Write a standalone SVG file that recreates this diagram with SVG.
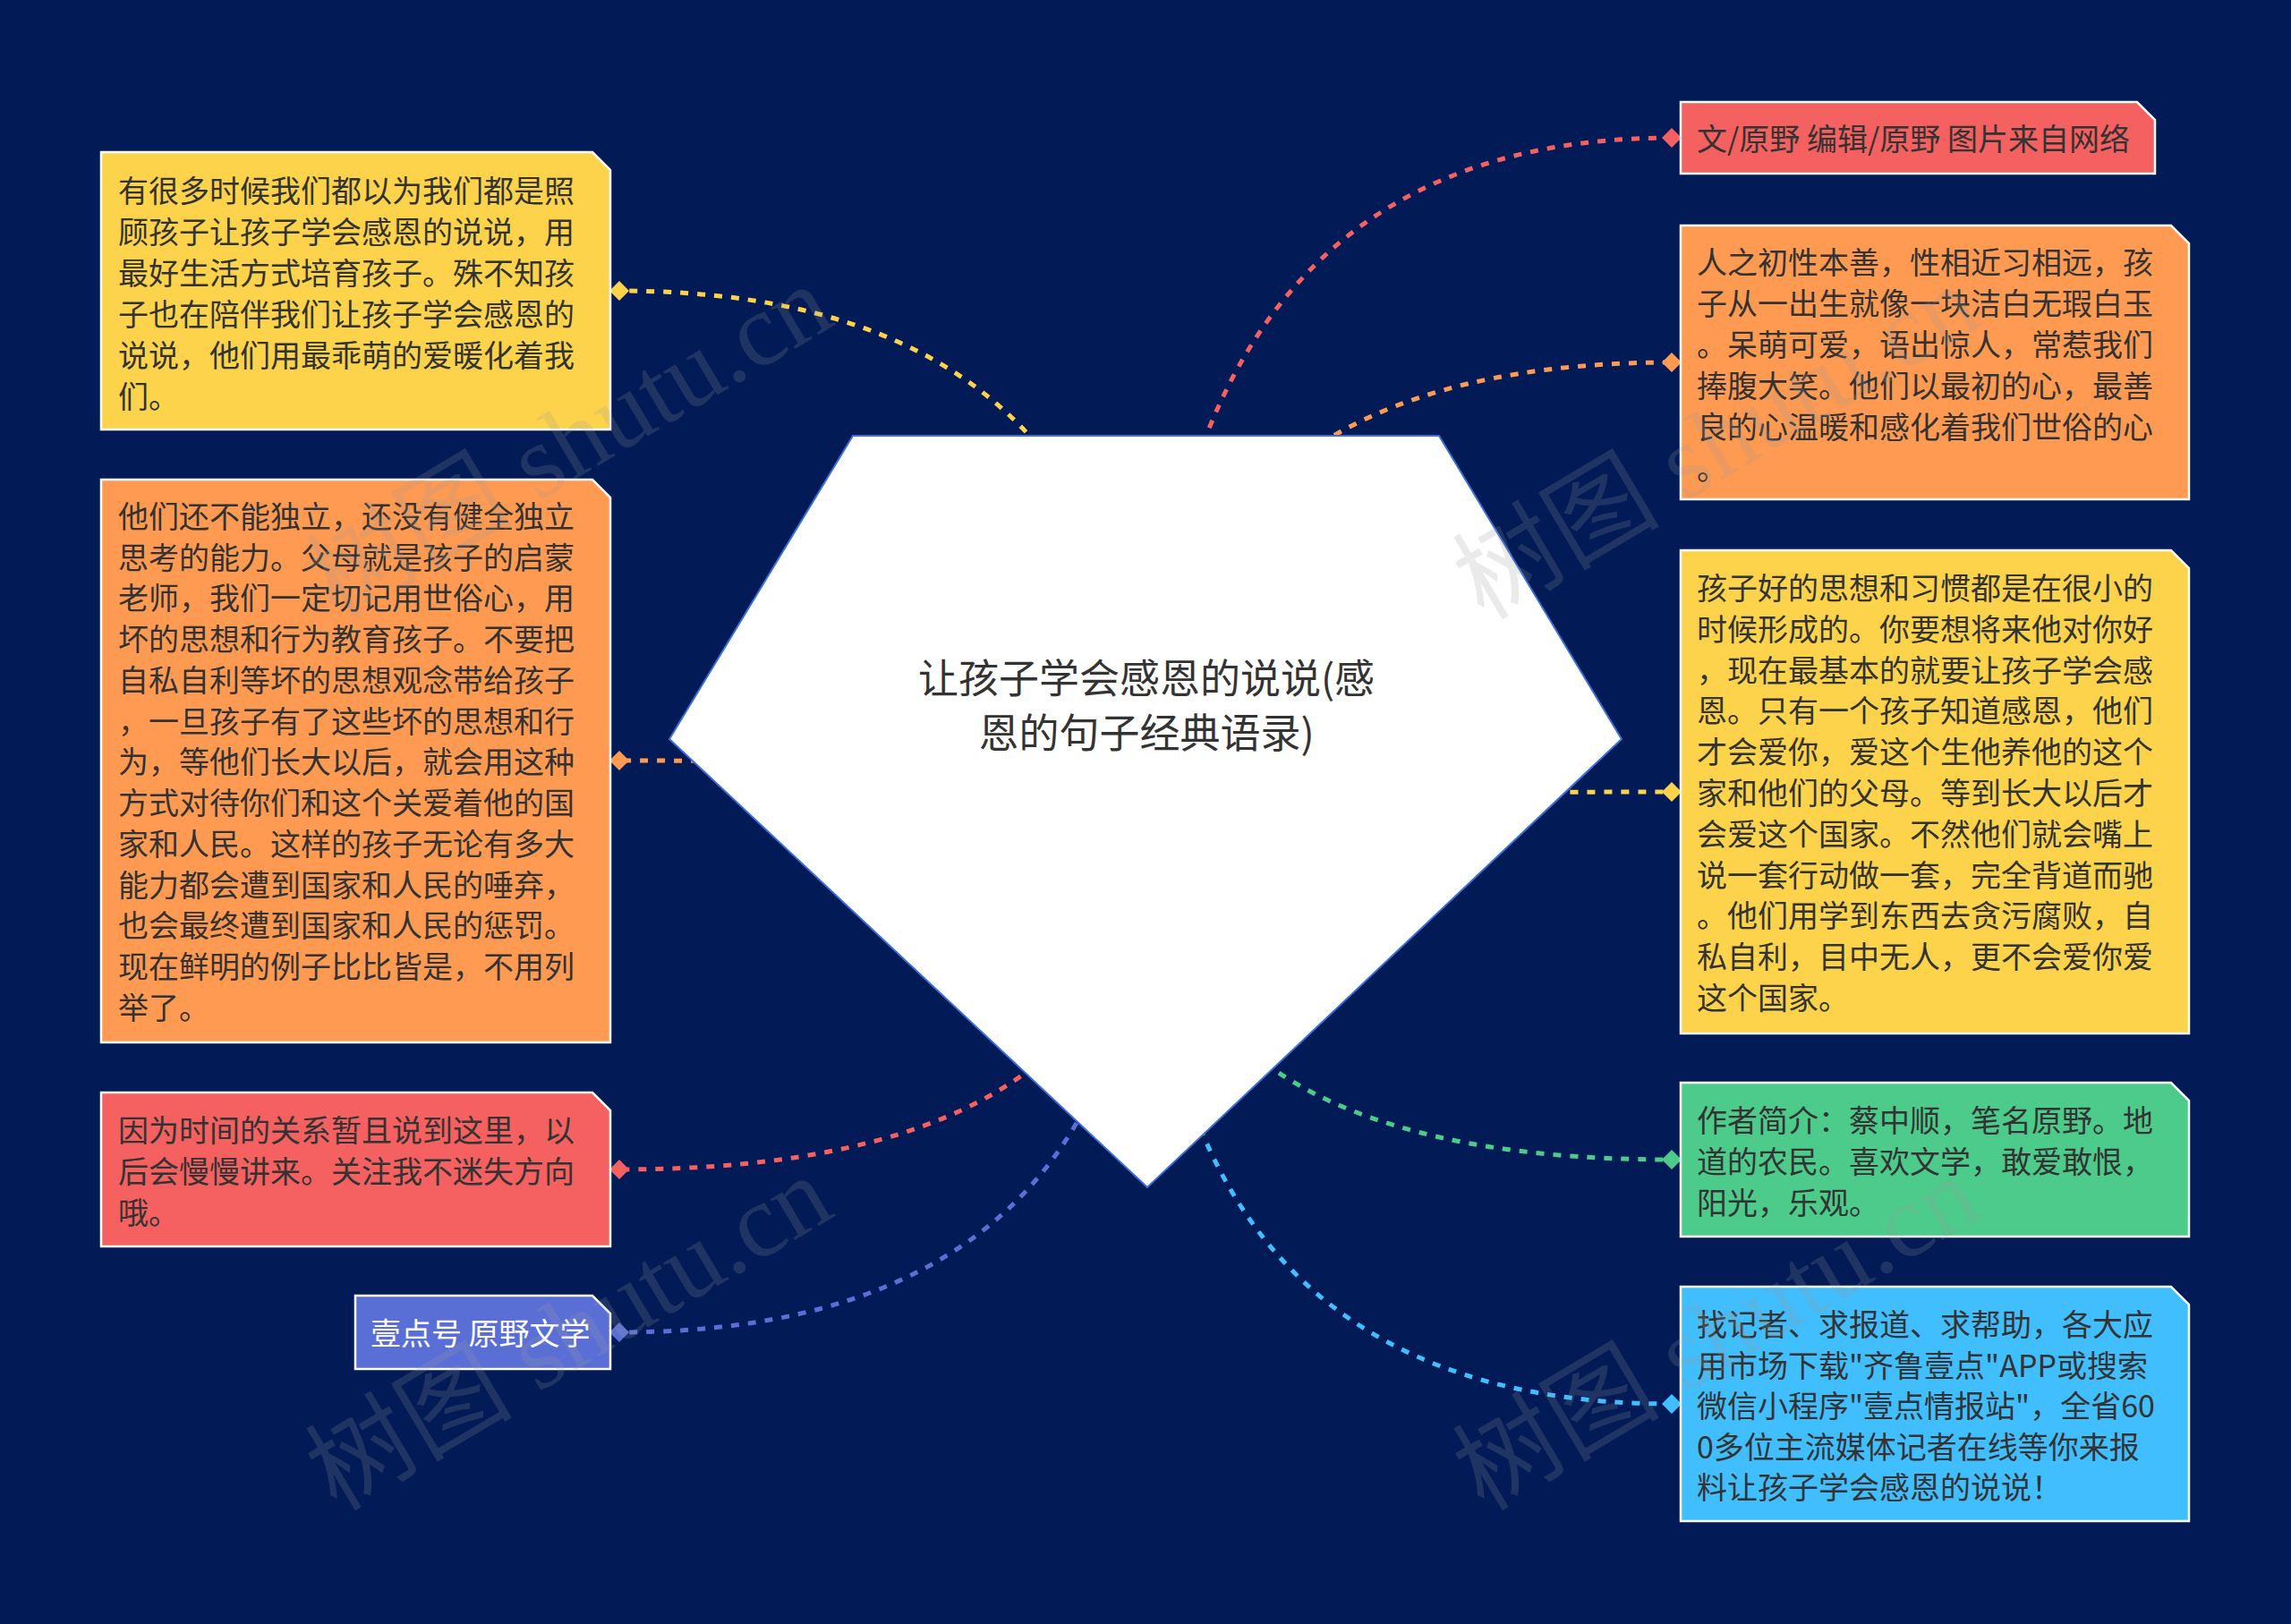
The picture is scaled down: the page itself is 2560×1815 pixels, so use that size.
<svg xmlns="http://www.w3.org/2000/svg" width="2560" height="1815" viewBox="0 0 2560 1815">
<style>
.bg{fill:#021a56}
.box{stroke:#ffffff;stroke-width:2.5}
.t{font-family:"Noto Sans CJK SC","Microsoft YaHei",sans-serif;font-size:34px;fill:#333333}
.tw{fill:#ffffff}
.root{font-family:"Noto Sans CJK SC","Microsoft YaHei",sans-serif;font-size:45px;fill:#333333;text-anchor:middle}
.c{fill:none;stroke-width:5;stroke-dasharray:9 10}
.wm{font-family:"Liberation Serif","Noto Sans CJK SC",serif;font-size:116px;fill:#9a9a9a;opacity:0.2}
.yel{fill:#fcd34b}.ora{fill:#ff9a52}.red{fill:#f56060}.blu{fill:#5a6fd5}.grn{fill:#4ccb8b}.cya{fill:#41befd}
</style>
<rect class="bg" x="0" y="0" width="2560" height="1815"/>
<g id="connectors">
<path class="c" stroke="#fcd34b" d="M1282,907 Q1282,325 692,325"/>
<path class="c" stroke="#ff9a52" d="M1282,907 Q1282,850 692,850"/>
<path class="c" stroke="#f56060" d="M1282,907 Q1282,1307 692,1307"/>
<path class="c" stroke="#5a6fd5" d="M1282,907 Q1282,1489 692,1489"/>
<path class="c" stroke="#f56060" d="M1282,907 Q1282,154 1868,154"/>
<path class="c" stroke="#ff9a52" d="M1282,907 Q1282,405 1868,405"/>
<path class="c" stroke="#fcd34b" d="M1282,907 Q1282,885 1868,885"/>
<path class="c" stroke="#4ccb8b" d="M1282,907 Q1282,1296 1868,1296"/>
<path class="c" stroke="#41befd" d="M1282,907 Q1282,1569 1868,1569"/>
<polygon class="yel" points="681,325 692,314 703,325 692,336"/>
<polygon class="ora" points="681,850 692,839 703,850 692,861"/>
<polygon class="red" points="681,1307 692,1296 703,1307 692,1318"/>
<polygon class="blu" points="681,1489 692,1478 703,1489 692,1500"/>
<polygon class="red" points="1857,154 1868,143 1879,154 1868,165"/>
<polygon class="ora" points="1857,405 1868,394 1879,405 1868,416"/>
<polygon class="yel" points="1857,885 1868,874 1879,885 1868,896"/>
<polygon class="grn" points="1857,1296 1868,1285 1879,1296 1868,1307"/>
<polygon class="cya" points="1857,1569 1868,1558 1879,1569 1868,1580"/>
</g>
<g id="root">
<polygon points="953,487 1608,487 1812,826 1282,1327 748,826" fill="#ffffff" stroke="#3a6fd8" stroke-width="2"/>
<text class="root" x="1281" y="775">让孩子学会感恩的说说(感</text>
<text class="root" x="1281" y="836">恩的句子经典语录)</text>
</g>
<g id="node-l1">
<path class="box yel" d="M113,170 H662 L682,190 V480 H113 Z"/>
<text class="t"><tspan x="132" y="226">有很多时候我们都以为我们都是照</tspan><tspan x="132" y="272">顾孩子让孩子学会感恩的说说，用</tspan><tspan x="132" y="318">最好生活方式培育孩子。殊不知孩</tspan><tspan x="132" y="364">子也在陪伴我们让孩子学会感恩的</tspan><tspan x="132" y="410">说说，他们用最乖萌的爱暖化着我</tspan><tspan x="132" y="456">们。</tspan></text>
</g>
<g id="node-l2">
<path class="box ora" d="M113,536 H662 L682,556 V1165 H113 Z"/>
<text class="t"><tspan x="132" y="590">他们还不能独立，还没有健全独立</tspan><tspan x="132" y="636">思考的能力。父母就是孩子的启蒙</tspan><tspan x="132" y="681">老师，我们一定切记用世俗心，用</tspan><tspan x="132" y="727">坏的思想和行为教育孩子。不要把</tspan><tspan x="132" y="773">自私自利等坏的思想观念带给孩子</tspan><tspan x="132" y="819">，一旦孩子有了这些坏的思想和行</tspan><tspan x="132" y="864">为，等他们长大以后，就会用这种</tspan><tspan x="132" y="910">方式对待你们和这个关爱着他的国</tspan><tspan x="132" y="956">家和人民。这样的孩子无论有多大</tspan><tspan x="132" y="1002">能力都会遭到国家和人民的唾弃，</tspan><tspan x="132" y="1047">也会最终遭到国家和人民的惩罚。</tspan><tspan x="132" y="1093">现在鲜明的例子比比皆是，不用列</tspan><tspan x="132" y="1139">举了。</tspan></text>
</g>
<g id="node-l3">
<path class="box red" d="M113,1221 H662 L682,1241 V1393 H113 Z"/>
<text class="t"><tspan x="132" y="1276">因为时间的关系暂且说到这里，以</tspan><tspan x="132" y="1322">后会慢慢讲来。关注我不迷失方向</tspan><tspan x="132" y="1368">哦。</tspan></text>
</g>
<g id="node-l4">
<path class="box blu" d="M397,1448 H662 L682,1468 V1530 H397 Z"/>
<text class="t tw" x="414" y="1503">壹点号 原野文学</text>
</g>
<g id="node-r1">
<path class="box red" d="M1878,114 H2388 L2408,134 V194 H1878 Z"/>
<text class="t" x="1896" y="168">文/原野 编辑/原野 图片来自网络</text>
</g>
<g id="node-r2">
<path class="box ora" d="M1878,252 H2426 L2446,272 V558 H1878 Z"/>
<text class="t"><tspan x="1896" y="306">人之初性本善，性相近习相远，孩</tspan><tspan x="1896" y="352">子从一出生就像一块洁白无瑕白玉</tspan><tspan x="1896" y="398">。呆萌可爱，语出惊人，常惹我们</tspan><tspan x="1896" y="444">捧腹大笑。他们以最初的心，最善</tspan><tspan x="1896" y="490">良的心温暖和感化着我们世俗的心</tspan><tspan x="1896" y="536">。</tspan></text>
</g>
<g id="node-r3">
<path class="box yel" d="M1878,615 H2426 L2446,635 V1155 H1878 Z"/>
<text class="t"><tspan x="1896" y="670">孩子好的思想和习惯都是在很小的</tspan><tspan x="1896" y="716">时候形成的。你要想将来他对你好</tspan><tspan x="1896" y="762">，现在最基本的就要让孩子学会感</tspan><tspan x="1896" y="807">恩。只有一个孩子知道感恩，他们</tspan><tspan x="1896" y="853">才会爱你，爱这个生他养他的这个</tspan><tspan x="1896" y="899">家和他们的父母。等到长大以后才</tspan><tspan x="1896" y="945">会爱这个国家。不然他们就会嘴上</tspan><tspan x="1896" y="991">说一套行动做一套，完全背道而驰</tspan><tspan x="1896" y="1036">。他们用学到东西去贪污腐败，自</tspan><tspan x="1896" y="1082">私自利，目中无人，更不会爱你爱</tspan><tspan x="1896" y="1128">这个国家。</tspan></text>
</g>
<g id="node-r4">
<path class="box grn" d="M1878,1210 H2426 L2446,1230 V1382 H1878 Z"/>
<text class="t"><tspan x="1896" y="1265">作者简介：蔡中顺，笔名原野。地</tspan><tspan x="1896" y="1311">道的农民。喜欢文学，敢爱敢恨，</tspan><tspan x="1896" y="1357">阳光，乐观。</tspan></text>
</g>
<g id="node-r5">
<path class="box cya" d="M1878,1438 H2426 L2446,1458 V1700 H1878 Z"/>
<text class="t"><tspan x="1896" y="1493">找记者、求报道、求帮助，各大应</tspan><tspan x="1896" y="1539">用市场下载"齐鲁壹点"APP或搜索</tspan><tspan x="1896" y="1584">微信小程序"壹点情报站"，全省60</tspan><tspan x="1896" y="1630">0多位主流媒体记者在线等你来报</tspan><tspan x="1896" y="1675">料让孩子学会感恩的说说！</tspan></text>
</g>
<g id="watermark">
<text class="wm" transform="translate(376,1690) rotate(-30.7)">树图 shutu.cn</text>
<text class="wm" transform="translate(1658,1690) rotate(-30.7)">树图 shutu.cn</text>
<text class="wm" transform="translate(1658,694) rotate(-30.7)">树图 shutu.cn</text>
<text class="wm" transform="translate(376,694) rotate(-30.7)">树图 shutu.cn</text>
</g>
</svg>
